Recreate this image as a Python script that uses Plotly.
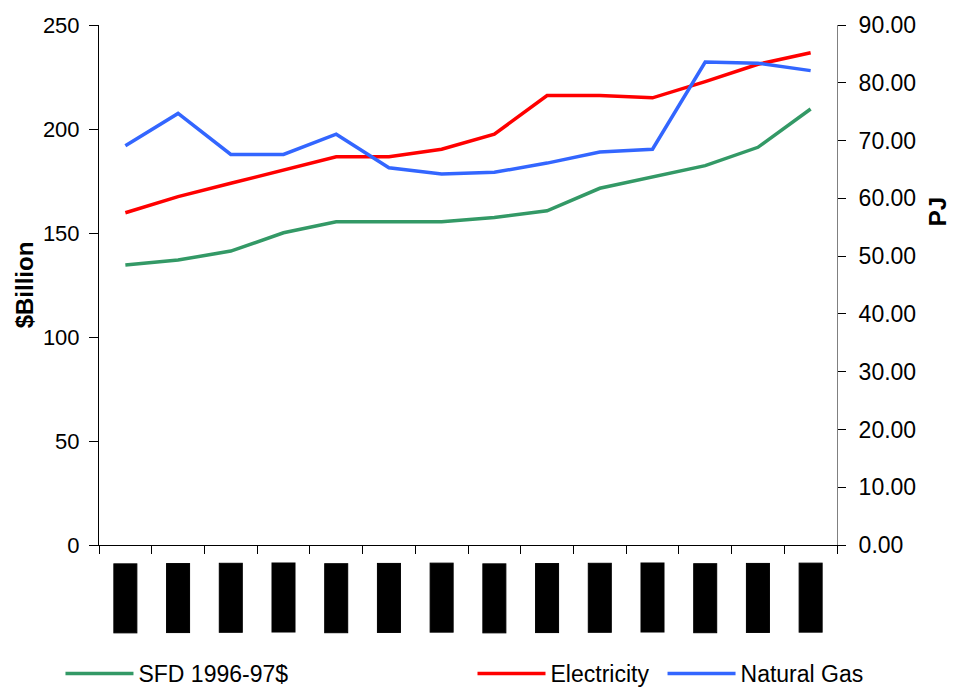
import plotly.graph_objects as go

# Financial years on the category axis
years = ["1984-85", "1985-86", "1986-87", "1987-88", "1988-89", "1989-90", "1990-91",
         "1991-92", "1992-93", "1993-94", "1994-95", "1995-96", "1996-97", "1997-98"]

# State final demand, $ billion (1996-97 prices) - left axis
sfd = [134.6, 137.0, 141.3, 150.1, 155.4, 155.4, 155.4, 157.4, 160.7, 171.5, 177.1, 182.4, 191.2, 209.6]

# Energy consumption, PJ - right axis
electricity = [57.5, 60.3, 62.6, 64.9, 67.2, 67.2, 68.5, 71.1, 77.8, 77.8, 77.4, 80.2, 83.2, 85.2]
natural_gas = [69.1, 74.7, 67.6, 67.6, 71.1, 65.3, 64.2, 64.5, 66.1, 68.0, 68.5, 83.6, 83.4, 82.1]

FONT = "Liberation Sans, Arial, sans-serif"

fig = go.Figure()
fig.add_trace(go.Scatter(x=years, y=sfd, name="SFD 1996-97$", mode="lines",
                         line=dict(color="#339966", width=3.5), yaxis="y", legend="legend"))
fig.add_trace(go.Scatter(x=years, y=electricity, name="Electricity", mode="lines",
                         line=dict(color="#FF0000", width=3.5), yaxis="y2", legend="legend2"))
fig.add_trace(go.Scatter(x=years, y=natural_gas, name="Natural Gas", mode="lines",
                         line=dict(color="#3366FF", width=3.5), yaxis="y2", legend="legend3"))

# Year labels drawn as boxed, rotated text under each category
annotations = []
for yr in years:
    annotations.append(dict(
        x=yr, xref="x", y=0, yref="y", yshift=-18,
        text=yr, textangle=-90, showarrow=False,
        xanchor="center", yanchor="top",
        font=dict(family=FONT, size=18, color="black"),
        bgcolor="black", bordercolor="black", borderwidth=1, borderpad=1,
    ))

# Right-hand axis title, set a little above the axis centre
annotations.append(dict(
    x=1.1355, xref="paper", y=0.642, yref="paper",
    text="<b>PJ</b>", textangle=-90, showarrow=False,
    xanchor="center", yanchor="middle",
    font=dict(family=FONT, size=24, color="black"),
))

legend_style = dict(
    orientation="h", xanchor="left", y=-0.247, yanchor="middle",
    font=dict(family=FONT, size=23), itemwidth=68,
    bgcolor="rgba(0,0,0,0)",
)

fig.update_layout(
    width=959, height=689,
    margin=dict(l=99, r=122, t=25, b=144, autoexpand=False),
    paper_bgcolor="white", plot_bgcolor="white",
    font=dict(family=FONT, size=22, color="black"),
    showlegend=True,
    xaxis=dict(
        type="category", range=[-0.5, 13.5], tickson="boundaries",
        ticks="outside", ticklen=8, tickcolor="black", tickwidth=1,
        showline=True, linecolor="black", linewidth=1,
        showticklabels=False, showgrid=False, zeroline=False,
    ),
    yaxis=dict(
        range=[0, 250], dtick=50, ticks="outside", ticklen=9,
        tickcolor="black", showline=True, linecolor="black", linewidth=1,
        showgrid=False, zeroline=False, ticklabelstandoff=5,
        tickfont=dict(size=22),
        title=dict(text="<b>$Billion</b>", font=dict(size=24), standoff=2),
    ),
    yaxis2=dict(
        range=[0, 90], dtick=10, tickformat=".2f", overlaying="y", side="right",
        ticks="outside", ticklen=8, tickcolor="black",
        showline=True, linecolor="#808080", linewidth=1,
        showgrid=False, zeroline=False, ticklabelstandoff=8,
        tickfont=dict(size=23),
    ),
    legend=dict(legend_style, x=-0.0522),
    legend2=dict(legend_style, x=0.5061),
    legend3=dict(legend_style, x=0.7636),
    annotations=annotations,
)

fig.write_html("out.html")
